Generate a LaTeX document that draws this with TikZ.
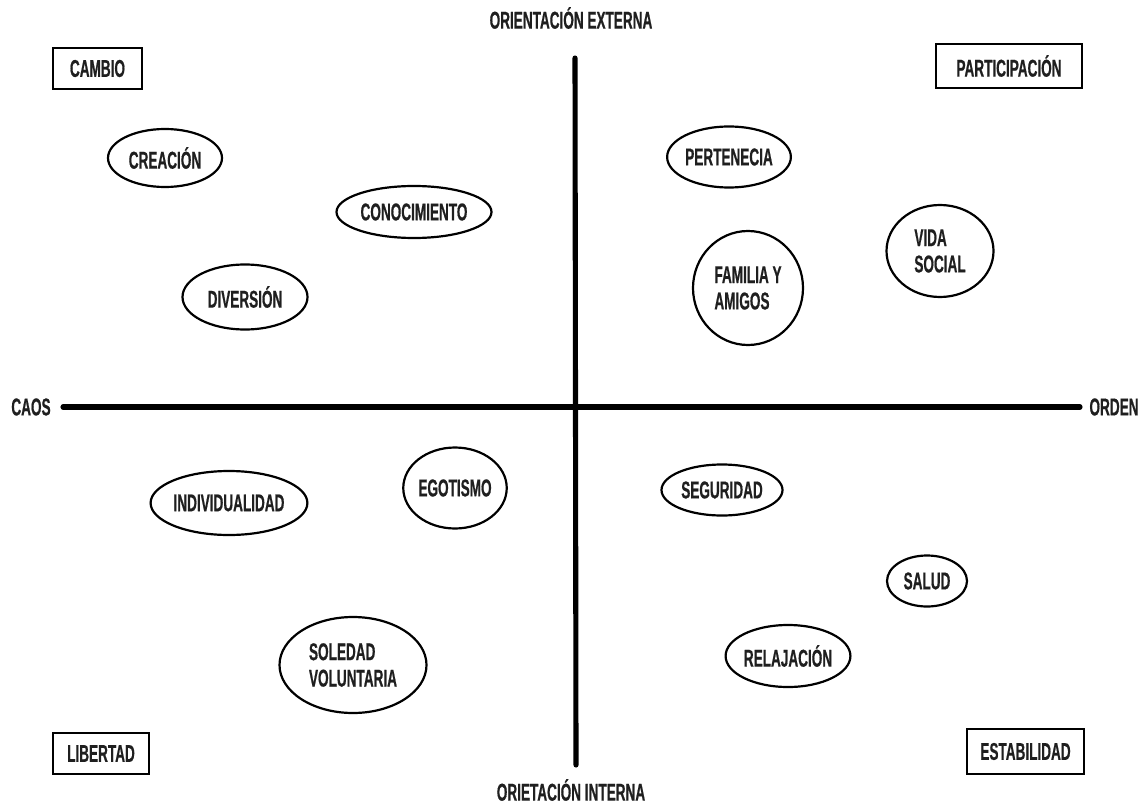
\documentclass[tikz,border=0pt]{standalone}
\usepackage{fontspec}
\usetikzlibrary{shapes.geometric}
\newfontfamily\condfont[FakeStretch=0.56,FakeBold=0.6]{Liberation Sans}
\newlength\unitpx
\setlength\unitpx{0.02cm}
\tikzset{
  lbl/.style={font=\condfont\bfseries\fontsize{13.8}{15}\selectfont, text=black!88, inner sep=0pt, align=left},
  axis/.style={line width=2.9pt, line cap=round},
  quad/.style 2 args={draw, line width=1.6pt, rectangle, inner sep=0pt,
    minimum width=#1\unitpx, minimum height=#2\unitpx, lbl},
  oval/.style 2 args={draw, line width=1.25pt, ellipse, inner sep=0pt,
    minimum width=#1\unitpx, minimum height=#2\unitpx, lbl},
}
\begin{document}
\begin{tikzpicture}[x=0.02cm, y=-0.02cm]
\useasboundingbox (0,0) rectangle (1141,807);

% axes
\coordinate (left)   at (63,407);
\coordinate (right)  at (1080,407);
\coordinate (top)    at (575,58);
\coordinate (bottom) at (576,765);
\draw[axis] (left) -- (right);
\draw[axis] (top) -- (bottom);

% axis labels
\node[lbl] (caos)  at (31,407)   {CAOS};
\node[lbl] (orden) at (1114,407) {ORDEN};
\node[lbl] (ext)   at (571,18)   {ORIENTACIÓN EXTERNA};
\node[lbl] (int)   at (571,790)  {ORIETACIÓN INTERNA};

% quadrant titles
\node[quad={89}{41}]  (cambio) at (97.5,68.5)  {CAMBIO};
\node[quad={146}{44}] (partic) at (1009,66)    {PARTICIPACIÓN};
\node[quad={96}{41}]  (libert) at (101,753.5)  {LIBERTAD};
\node[quad={117}{45}] (estab)  at (1025.5,751.5) {ESTABILIDAD};

% upper left
\node[oval={114}{58}] (creacion) at (165,158) {CREACIÓN};
\node[oval={155}{52}] (conoc)    at (414,212) {CONOCIMIENTO};
\node[oval={125}{65}] (divers)   at (245,297) {DIVERSIÓN};

% upper right
\node[oval={120}{61}]  (pertenece) at (729,157) {PERTENECIA};
\node[oval={110}{114}] (familia)   at (748,288) {FAMILIA Y\\AMIGOS};
\node[oval={107}{92}]  (vida)      at (940,251) {VIDA\\SOCIAL};

% lower left
\node[oval={152}{64}] (indiv)   at (229,503) {INDIVIDUALIDAD};
\node[oval={101}{81}] (ego)     at (455,488) {EGOTISMO};
\node[oval={147}{96}] (soledad) at (353,665) {SOLEDAD\\VOLUNTARIA};

% lower right
\node[oval={121}{51}] (segur) at (722,490) {SEGURIDAD};
\node[oval={80}{51}]  (salud) at (927,581) {SALUD};
\node[oval={124}{62}] (relax) at (788,656) {RELAJACIÓN};
\end{tikzpicture}
\end{document}
